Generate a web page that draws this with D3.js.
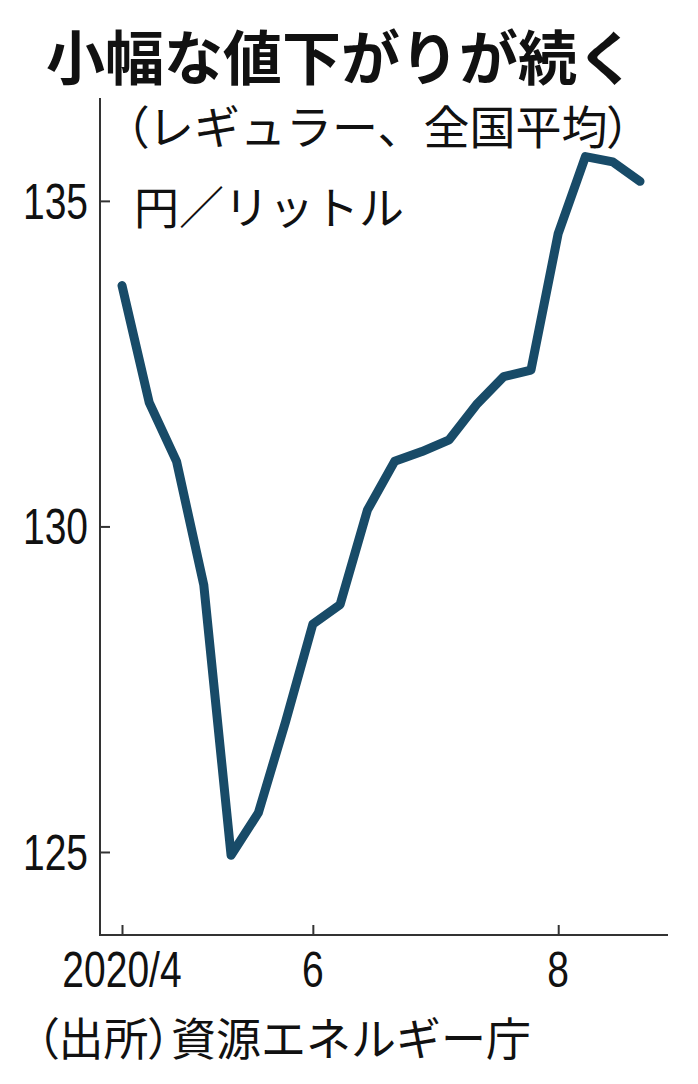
<!DOCTYPE html>
<html>
<head>
<meta charset="utf-8">
<script src="https://cdn.jsdelivr.net/npm/d3@7"></script>
<style>
  body { margin: 0; background: #fff; }
  svg { display: block; }
  .jp { font-family: "Noto Sans CJK JP", sans-serif; fill: #111; }
  .palt { font-feature-settings: "palt"; }
  .num { font-family: "Liberation Sans", sans-serif; fill: #111; }
</style>
</head>
<body>
<svg id="chart"></svg>
<script>
'use strict'
// weekly survey dates (regular gasoline, national average)
const dates = ['4/13', '4/20', '4/27', '5/7', '5/11', '5/18', '5/25',
  '6/1', '6/8', '6/15', '6/22', '6/29', '7/6', '7/13', '7/20', '7/27',
  '8/3', '8/11', '8/17', '8/24']
const prices = [133.7, 131.9, 131.0, 129.1, 124.95, 125.6, 127.0,
  128.5, 128.8, 130.25, 131.0, 131.15, 131.33, 131.87, 132.3, 132.4,
  134.5, 135.68, 135.6, 135.3]
const xTicks = ['4/13', '6/1', '8/3']
const xTickLabels = ['2020/4', '6', '8']
const yTicks = [125, 130, 135]

const width = 698, height = 1084
const narrow = 0.78  // numbers are set in a condensed face

const svg = d3.select('#chart')
  .attr('width', width)
  .attr('height', height)

svg.append('rect').attr('width', width).attr('height', height).attr('fill', '#fff')

const x = d3.scalePoint()
  .domain(dates)
  .range([122, 640])

const y = d3.scaleLinear()
  .domain([123.725, 136.58])
  .range([935, 98])

// titles
svg.append('text').attr('class', 'jp')
  .attr('x', 341).attr('y', 80)
  .attr('text-anchor', 'middle')
  .style('font-size', '59px').style('font-weight', 700)
  .text('小幅な値下がりが続く')

const sub = svg.append('text').attr('class', 'jp')
  .attr('x', 125).attr('y', 144)
  .style('font-size', '46px')
sub.append('tspan').attr('class', 'palt').text('（')
sub.append('tspan').text('レギュラー、全国平均')
sub.append('tspan').attr('class', 'palt').text('）')

svg.append('text').attr('class', 'jp')
  .attr('x', 134).attr('y', 225)
  .style('font-size', '45px')
  .text('円／リットル')

// axes
const yAxis = svg.append('g')
  .attr('transform', 'translate(100,0)')
  .call(d3.axisRight(y).tickValues(yTicks).tickSize(10).tickFormat(''))
yAxis.select('.domain').remove()
yAxis.selectAll('line').attr('stroke', '#333').attr('stroke-width', 2)

svg.append('line')
  .attr('x1', 100).attr('x2', 100)
  .attr('y1', y.range()[1]).attr('y2', y.range()[0])
  .attr('stroke', '#333').attr('stroke-width', 2)

svg.selectAll('.ylab')
  .data(yTicks)
  .enter().append('text')
  .attr('class', 'num ylab')
  .attr('transform', d => 'translate(88,' + (y(d) + 18) + ') scale(' + narrow + ',1)')
  .attr('text-anchor', 'end')
  .style('font-size', '50px')
  .text(d => d)

const xAxis = svg.append('g')
  .attr('transform', 'translate(0,' + y.range()[0] + ')')
  .call(d3.axisTop(x).tickValues(xTicks).tickSize(10).tickFormat(''))
xAxis.select('.domain').remove()
xAxis.selectAll('line').attr('stroke', '#333').attr('stroke-width', 2)

svg.append('line')
  .attr('x1', 99).attr('x2', 668)
  .attr('y1', y.range()[0]).attr('y2', y.range()[0])
  .attr('stroke', '#333').attr('stroke-width', 2)

svg.selectAll('.xlab')
  .data(xTicks)
  .enter().append('text')
  .attr('class', 'num xlab')
  .attr('transform', d => 'translate(' + x(d) + ',987) scale(' + narrow + ',1)')
  .attr('text-anchor', 'middle')
  .style('font-size', '50px')
  .text((d, i) => xTickLabels[i])

// price line
const line = d3.line()
  .x((d, i) => x(dates[i]))
  .y(d => y(d))

svg.append('path')
  .datum(prices)
  .attr('d', line)
  .attr('fill', 'none')
  .attr('stroke', '#184b68')
  .attr('stroke-width', 9)
  .attr('stroke-linejoin', 'round')
  .attr('stroke-linecap', 'round')

// source
const src = svg.append('text').attr('class', 'jp')
  .attr('x', 36).attr('y', 1056)
  .style('font-size', '45px')
src.append('tspan').attr('class', 'palt').text('（出所）')
src.append('tspan').text('資源エネルギー庁')
</script>
</body>
</html>
